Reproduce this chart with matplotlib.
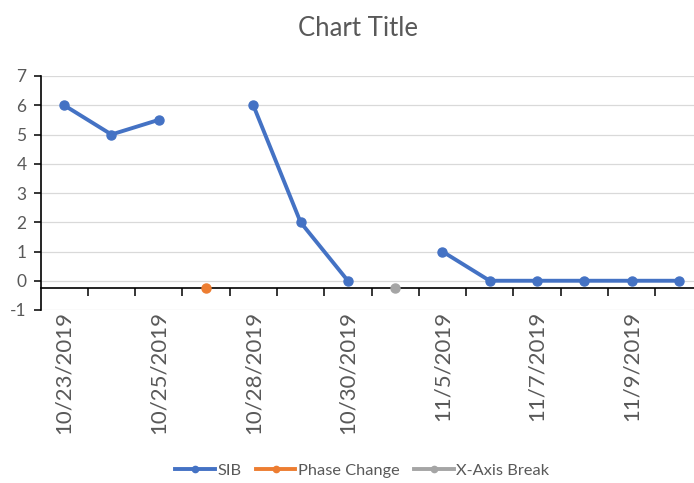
import matplotlib.pyplot as plt
import numpy as np

# category labels (every other one shown on the axis)
dates = ['10/23/2019', '10/24/2019', '10/25/2019', '', '10/28/2019', '10/29/2019',
         '10/30/2019', '', '11/5/2019', '11/6/2019', '11/7/2019', '11/8/2019',
         '11/9/2019', '11/10/2019']
sib = [6, 5, 5.5, None, 6, 2, 0, None, 1, 0, 0, 0, 0, 0]
phase_change = [None, None, None, -0.25, None, None, None, None, None, None, None, None, None, None]
axis_break = [None, None, None, None, None, None, None, -0.25, None, None, None, None, None, None]

plt.rcParams['font.family'] = ['Lato', 'DejaVu Sans']
plt.rcParams['axes.unicode_minus'] = False
grey_txt = '#595959'

fig = plt.figure(figsize=(6.94, 4.83), dpi=100)
ax = fig.add_axes([40.5 / 694, 1 - 310 / 483, 662 / 694, 234 / 483])

x = np.arange(len(dates))
def to_arr(v):
    return np.array([np.nan if a is None else a for a in v], dtype=float)

ax.plot(x, to_arr(sib), color='#4472C4', lw=2.8, marker='o', ms=6.5, label='SIB', zorder=3)
ax.plot(x, to_arr(phase_change), color='#ED7D31', lw=2.8, marker='o', ms=6.5, label='Phase Change', zorder=3)
ax.plot(x, to_arr(axis_break), color='#A5A5A5', lw=2.8, marker='o', ms=6.5, label='X-Axis Break', zorder=3)

ax.set_xlim(-0.5, len(dates) - 0.5)
ax.set_ylim(-1, 7)
ax.set_yticks(range(-1, 8))
ax.grid(axis='y', color='#D9D9D9', lw=0.9)
ax.set_axisbelow(True)

for s in ['top', 'right']:
    ax.spines[s].set_visible(False)
ax.spines['left'].set_color('black')
ax.spines['left'].set_linewidth(1.2)
ax.spines['bottom'].set_position(('data', -0.25))
ax.spines['bottom'].set_color('black')
ax.spines['bottom'].set_linewidth(1.2)

ax.set_xticks(np.arange(0.5, len(dates) - 0.5, 1))
ax.set_xticklabels([])
ax.tick_params(axis='x', direction='out', length=6, width=1.1, color='black')
ax.tick_params(axis='y', direction='out', length=5, width=1.1, color='black', labelsize=12.5,
               labelcolor=grey_txt, pad=5)

for i in range(0, len(dates), 2):
    ax.text(i, -1.03, dates[i], rotation=90, ha='center', va='top', fontsize=16,
            color=grey_txt, clip_on=False)

fig.text(0.516, 0.942, 'Chart Title', ha='center', va='center', fontsize=18.5, color=grey_txt)

leg = fig.legend(loc='center', bbox_to_anchor=(0.522, 0.026), ncol=3, frameon=False,
                 fontsize=11.8, handlelength=2.4, columnspacing=0.9, handletextpad=0.15)
for t in leg.get_texts():
    t.set_color(grey_txt)
for h in leg.legend_handles:
    h.set_markersize(4.5)

fig.savefig('out.png', dpi=100)
